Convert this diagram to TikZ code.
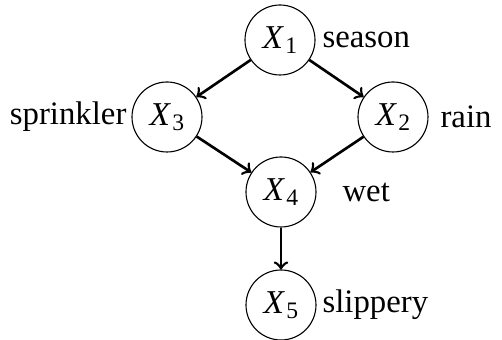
\documentclass[tikz,border=0pt]{standalone}
\usepackage{fontspec}
\setmainfont{Liberation Serif}
\newcommand{\vname}[1]{\textit{X}\kern0.04em\raisebox{-0.35ex}{\fontsize{8.5}{9}\selectfont #1}}
\begin{document}
\begin{tikzpicture}[x=0.36pt,y=-0.36pt,
  var/.style={circle,draw,line width=0.4pt,minimum size=25.2pt,inner sep=0pt,font=\fontsize{12}{14}\selectfont},
  lab/.style={inner sep=0pt,font=\fontsize{11.8}{14}\selectfont},
  edge/.style={->,line width=0.95pt}]
\useasboundingbox (0,0) rectangle (502,340);
\node[var] (x1) at (280,40) {\vname{1}};
\node[var] (x3) at (167,117) {\vname{3}};
\node[var] (x2) at (393,117) {\vname{2}};
\node[var] (x4) at (281,192) {\vname{4}};
\node[var] (x5) at (281,305) {\vname{5}};
\node[lab,anchor=west] (l1) at (322,40) {season};
\node[lab,anchor=east] (l3) at (127,117) {sprinkler};
\node[lab,anchor=west] (l2) at (440,117) {rain};
\node[lab,anchor=west] (l4) at (342,192) {wet};
\node[lab,anchor=west] (l5) at (322,305) {slippery};
\draw[edge] (x1) -- (x3);
\draw[edge] (x1) -- (x2);
\draw[edge] (x3) -- (x4);
\draw[edge] (x2) -- (x4);
\draw[edge] (x4) -- (x5);
\end{tikzpicture}
\end{document}
